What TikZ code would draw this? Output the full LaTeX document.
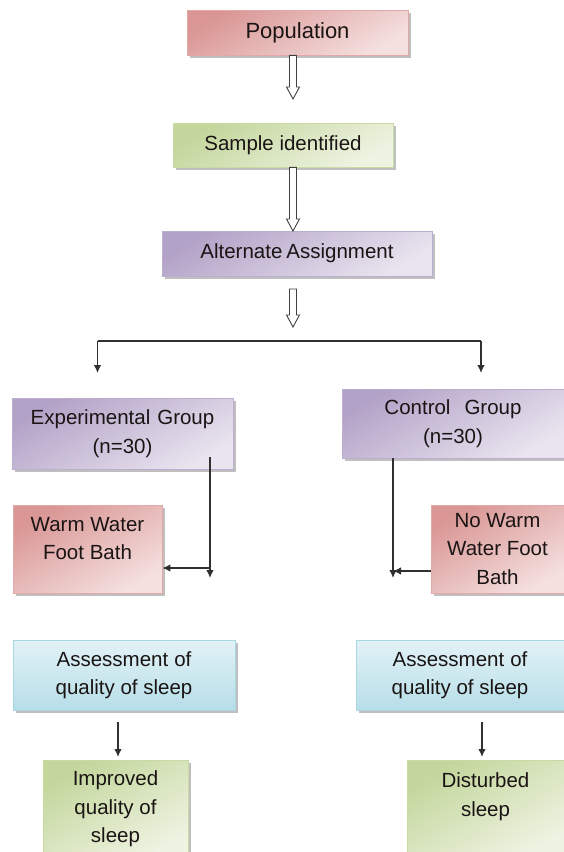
\documentclass[tikz,border=0pt]{standalone}
\usepackage{fontspec}
\setmainfont{Liberation Sans}
\usetikzlibrary{calc,shadows,arrows.meta}
\definecolor{redD}{HTML}{D99694}
\definecolor{redL}{HTML}{F4E0DF}
\definecolor{redB}{HTML}{E2A9A8}
\definecolor{greenD}{HTML}{C3D69B}
\definecolor{greenL}{HTML}{EEF3E2}
\definecolor{greenB}{HTML}{C9DBA5}
\definecolor{purD}{HTML}{B3A2C7}
\definecolor{purL}{HTML}{E9E4EF}
\definecolor{purB}{HTML}{BBAECF}
\definecolor{bluD}{HTML}{B7DEE8}
\definecolor{bluL}{HTML}{E2F2F6}
\definecolor{bluB}{HTML}{A9D8E4}
\definecolor{txt}{HTML}{1A1414}
\definecolor{lin}{HTML}{303030}
\tikzset{
  box/.style={draw, line width=0.8pt, align=center, inner sep=0pt,
    font=\fontsize{20.5}{28.5}\selectfont, text=txt,
    drop shadow={shadow xshift=2.5pt, shadow yshift=-2.5pt, fill=black!45, opacity=0.55}},
  redbox/.style={box, draw=redB, top color=redD, bottom color=redL, shading angle=30},
  greenbox/.style={box, draw=greenB, top color=greenD, bottom color=greenL, shading angle=30},
  purbox/.style={box, draw=purB, top color=purD, bottom color=purL, shading angle=30},
  blubox/.style={box, draw=bluB, top color=bluL, bottom color=bluD, shading angle=0},
  hollow/.style={draw=black!75, line width=0.9pt, fill=white, line join=miter},
  conn/.style={draw=lin, line width=1.2pt, -{Latex[length=8pt,width=7.5pt]}},
  plain/.style={draw=lin, line width=1.2pt}
}
\newcommand\hollowarrow[2]{%
  \draw[hollow] ($(#1)+(-3.5,0)$) -- ($(#2)+(-3.5,-12)$) -- ($(#2)+(-6.5,-12)$) -- (#2)
    -- ($(#2)+(6.5,-12)$) -- ($(#2)+(3.5,-12)$) -- ($(#1)+(3.5,0)$) -- cycle;}
\begin{document}
\begin{tikzpicture}[x=1pt,y=-1pt]
\useasboundingbox[fill=white] (0,0) rectangle (564,852);

% boxes
\node[redbox, minimum width=221pt, minimum height=45pt, font=\fontsize{22}{28}\selectfont] (pop) at (297.5,32.5) {Population};
\node[greenbox, minimum width=220pt, minimum height=44pt] (sample) at (283,145) {Sample identified};
\node[purbox, minimum width=270pt, minimum height=45pt] (alt) at (297,253.5) {Alternate\hspace{4pt}Assignment};

\node[purbox, minimum width=221pt, minimum height=71pt] (exp) at (122.5,433.5) {Experimental\hspace{7pt}Group\\(n=30)};
\node[purbox, minimum width=222pt, minimum height=69pt] (ctrl) at (453,423.5) {Control\hspace{14pt}Group\\(n=30)};

\node[redbox, minimum width=149pt, minimum height=88pt] (wwfb) at (87.5,549) {Warm Water\\Foot Bath\\[-7pt]~};
\node[redbox, minimum width=133pt, minimum height=88pt] (nwwfb) at (497.5,549) {No Warm\\Water Foot\\Bath};

\node[blubox, minimum width=222pt, minimum height=70pt] (assL) at (124,675) {Assessment\hspace{6pt}of\\quality of sleep};
\node[blubox, minimum width=208pt, minimum height=70pt] (assR) at (460,675) {Assessment\hspace{6pt}of\\quality of sleep};

\node[greenbox, minimum width=145pt, minimum height=98pt] (impr) at (115.5,809) {Improved\\quality of\\sleep};
\node[greenbox, minimum width=157pt, minimum height=98pt] (dist) at (485.5,809) {Disturbed\\sleep\\~};

% hollow arrows
\coordinate (a1) at (293,99);
\coordinate (a2) at (293,231);
\coordinate (a3s) at (293,289);
\coordinate (a3) at (293,327);
\hollowarrow{a1 |- pop.south}{a1}
\hollowarrow{a2 |- sample.south}{a2}
\hollowarrow{a3s}{a3}

% branch
\coordinate (bl) at (97.5,341);
\coordinate (br) at (481,341);
\coordinate (blt) at (97.5,373);
\coordinate (brt) at (481,373);
\draw[plain] (bl) -- (br);
\draw[conn] (bl) -- (blt);
\draw[conn] (br) -- (brt);

% experimental side
\coordinate (e1) at (210,457);
\coordinate (e2) at (210,578);
\coordinate (e3) at (210,568);
\draw[conn] (e1) -- (e2);
\draw[conn] (e3) -- (wwfb.east |- e3);

% control side
\coordinate (c2) at (393,578);
\coordinate (c3) at (393,571);
\draw[conn] (c2 |- ctrl.south) -- (c2);
\draw[conn] (nwwfb.west |- c3) -- (c3);

% bottom arrows
\coordinate (l1) at (118,722);
\coordinate (l2) at (118,757);
\coordinate (r1) at (482,722);
\coordinate (r2) at (482,757);
\draw[conn] (l1) -- (l2);
\draw[conn] (r1) -- (r2);
\end{tikzpicture}
\end{document}
